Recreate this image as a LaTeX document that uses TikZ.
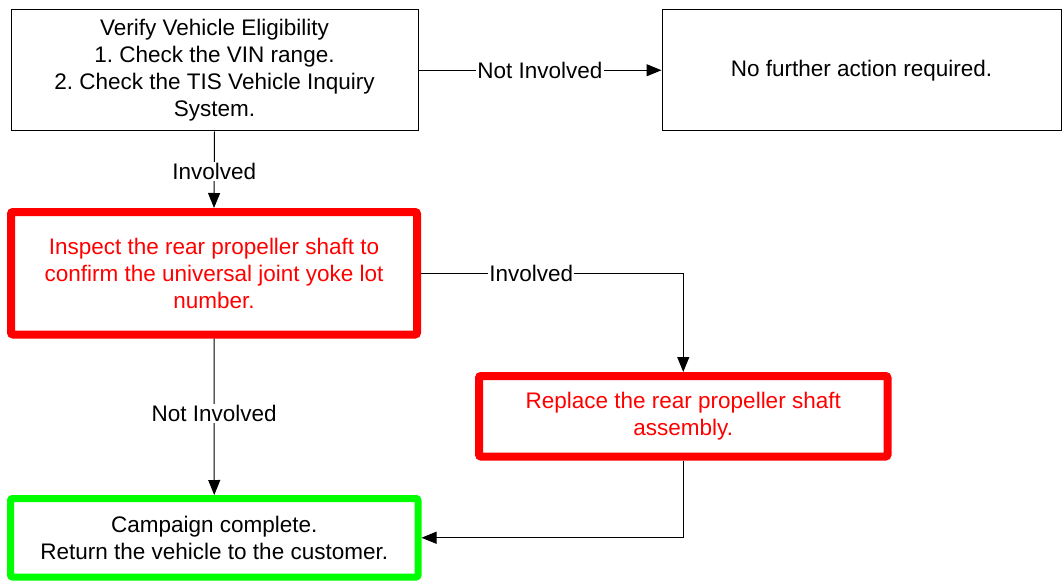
\documentclass[tikz,border=0pt]{standalone}
\usepackage{fontspec}
\setmainfont{Liberation Sans}
\usetikzlibrary{arrows.meta}
\definecolor{boxred}{RGB}{255,0,0}
\definecolor{boxgreen}{RGB}{0,255,0}
\frenchspacing
\begin{document}
\begin{tikzpicture}[x=1pt,y=-1pt,
  every node/.style={font=\fontsize{22.5}{27}\selectfont, inner sep=0pt},
  plainbox/.style={draw=black, line width=1pt, fill=white, align=center},
  redbox/.style={draw=boxred, line width=8pt, rounded corners=2pt, fill=white, align=center, text=boxred},
  greenbox/.style={draw=boxgreen, line width=7pt, rounded corners=2pt, fill=white, align=center},
  conn/.style={draw=black, line width=1pt, -{Triangle[length=15pt,width=12pt]}},
  lbl/.style={fill=white, inner sep=1pt}]
\useasboundingbox (0,0) rectangle (1062,583);
\fill[white] (0,0) rectangle (1062,583);

\node[plainbox, minimum width=407pt, minimum height=121.5pt] (b1) at (214.5,70.25)
  {Verify Vehicle Eligibility\\1. Check the VIN range.\\2. Check the TIS Vehicle Inquiry\\System.};
\node[plainbox, minimum width=399pt, minimum height=121.5pt] (b2) at (861.5,70.25)
  {No further action required.};
\node[redbox, minimum width=406pt, minimum height=122.5pt] (b3) at (214,273.25)
  {Inspect the rear propeller shaft to\\confirm the universal joint yoke lot\\number.};
\node[redbox, minimum width=408.5pt, minimum height=80.5pt] (b4) at (683.25,416.25)
  {Replace the rear propeller shaft\\assembly.};
\node[greenbox, minimum width=407.5pt, minimum height=78.5pt] (b5) at (214.25,537.75)
  {Campaign complete.\\Return the vehicle to the customer.};

\draw[conn] (b1.east) -- node[lbl] {Not Involved} (b2.west);
\draw[conn] (b1.south) -- node[lbl, pos=0.52] {Involved} (b3.north);
\draw[conn] (b3.east) -| node[lbl, pos=0.21] {Involved} (b4.north);
\draw[conn] (b3.south) -- node[lbl, pos=0.48] {Not Involved} (b5.north);
\draw[conn] (b4.south) |- (b5.east);
\end{tikzpicture}
\end{document}
